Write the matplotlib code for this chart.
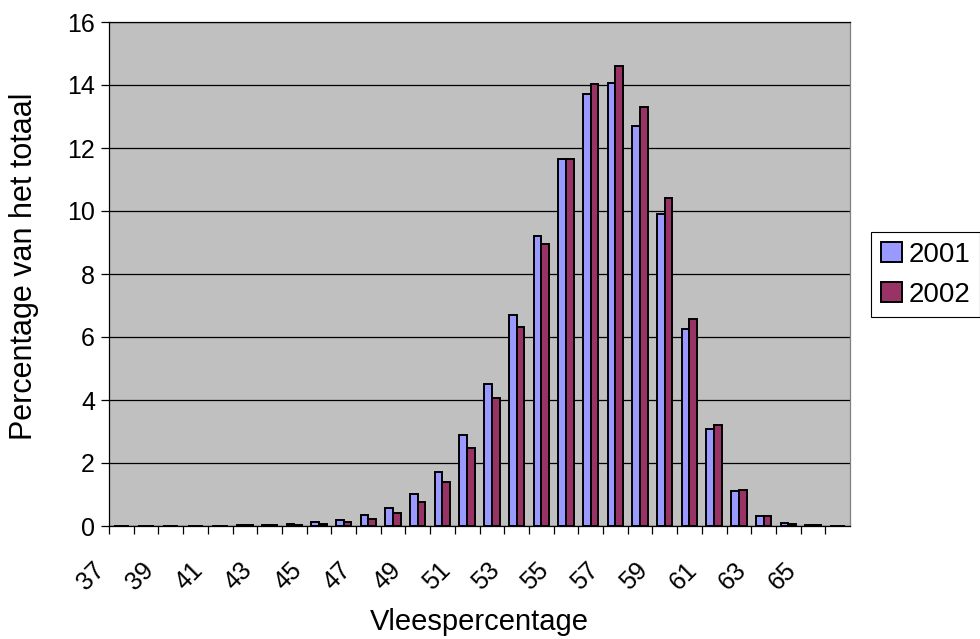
import matplotlib
matplotlib.use("Agg")
import matplotlib.pyplot as plt
import numpy as np

plt.rcParams['font.family'] = ['Liberation Sans', 'DejaVu Sans']

categories = list(range(37, 67))
values_2001 = [0, 0, 0, 0.01, 0.01, 0.02, 0.03, 0.05, 0.12, 0.20, 0.35, 0.57, 1.03, 1.70,
               2.89, 4.52, 6.69, 9.21, 11.66, 13.73, 14.05, 12.70, 9.89, 6.24, 3.09, 1.12,
               0.33, 0.08, 0.03, 0]
values_2002 = [0, 0, 0, 0.01, 0.01, 0.02, 0.02, 0.04, 0.07, 0.13, 0.23, 0.42, 0.77, 1.40,
               2.48, 4.07, 6.32, 8.96, 11.66, 14.03, 14.61, 13.31, 10.41, 6.58, 3.21, 1.15,
               0.32, 0.07, 0.02, 0]
series_names = ['2001', '2002']
colors = ['#9999FF', '#993366']
tick_labels = [str(c) if (c - 37) % 2 == 0 else '' for c in categories]

fig = plt.figure(figsize=(9.8, 6.39), dpi=100)
ax = fig.add_axes([109/980, 1 - 526/639, 741/980, 504/639])
ax.set_facecolor('#C0C0C0')

x = np.arange(len(categories))
w = 0.31
for i, (vals, name, col) in enumerate(zip([values_2001, values_2002], series_names, colors)):
    ax.bar(x + (i - 0.5) * w, vals, width=w, color=col, edgecolor='black',
           linewidth=1.4, label=name, zorder=3)

ax.set_xlim(-0.5, len(categories) - 0.5)
ax.set_ylim(0, 16)
ax.set_yticks(np.arange(0, 17, 2))
ax.yaxis.grid(True, color='black', linewidth=0.9)
ax.set_axisbelow(True)

ax.set_xticks(x - 0.5)
ax.set_xticklabels(tick_labels, rotation=45, ha='right')
ax.tick_params(axis='x', direction='out', length=6, width=0.9, pad=17, labelsize=18)
ax.tick_params(axis='y', direction='out', length=6, width=0.9, pad=4, labelsize=18)

for s in ['left', 'bottom', 'top']:
    ax.spines[s].set_color('black')
    ax.spines[s].set_linewidth(0.9)
ax.spines['right'].set_color('#808080')
ax.spines['right'].set_linewidth(0.9)

ax.set_xlabel('Vleespercentage', fontsize=21, va='top')
ax.xaxis.set_label_coords(0.5, -0.163)
ax.set_ylabel('Percentage van het totaal', fontsize=22)
ax.yaxis.set_label_coords(-0.095, 0.515)

leg = ax.legend(loc='upper left', bbox_to_anchor=(871/980, 1 - 232/639),
                bbox_transform=fig.transFigure, fontsize=20, frameon=True,
                fancybox=False, edgecolor='black', framealpha=1,
                handlelength=0.75, handleheight=0.75, handletextpad=0.25,
                labelspacing=0.5, borderpad=0.35, borderaxespad=0)
leg.get_frame().set_linewidth(0.8)

fig.savefig('out.png', dpi=100, facecolor='white')
